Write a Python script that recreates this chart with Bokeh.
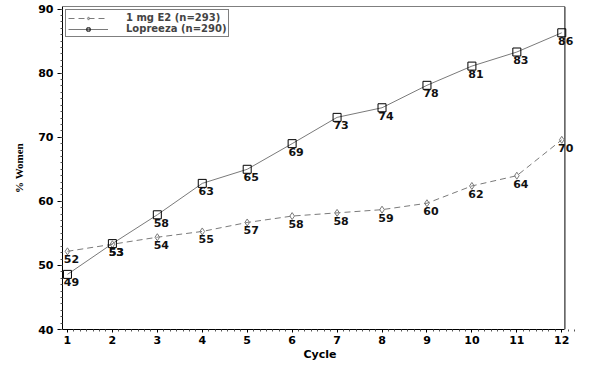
from bokeh.plotting import figure
from bokeh.models import Legend, LegendItem, FixedTicker, ColumnDataSource, Range1d, LabelSet
from bokeh.core.properties import value
from bokeh.embed import file_html
from bokeh.resources import INLINE

cycles = [1, 2, 3, 4, 5, 6, 7, 8, 9, 10, 11, 12]
e2_values = [52.2, 53.3, 54.4, 55.3, 56.7, 57.7, 58.2, 58.7, 59.7, 62.4, 64.0, 69.6]
e2_labels = ["52", "53", "54", "55", "57", "58", "58", "59", "60", "62", "64", "70"]
lop_values = [48.6, 53.4, 57.9, 62.8, 65.0, 69.0, 73.1, 74.6, 78.1, 81.1, 83.3, 86.3]
lop_labels = ["49", "53", "58", "63", "65", "69", "73", "74", "78", "81", "83", "86"]
y_ticks = [40, 50, 60, 70, 80, 90]
series_names = ["1 mg E2 (n=293)", "Lopreeza (n=290)"]

FONT = "DejaVu Sans"
X0, X1 = 0.89, 12.07      # plot box in data units
Y0, Y1 = 40, 90.4

p = figure(width=584, height=363, output_backend="svg", toolbar_location=None,
           x_range=Range1d(X0, 12.35), y_range=Range1d(Y0, Y1),
           min_border_left=62, min_border_right=7, min_border_top=6, min_border_bottom=33)

p.xgrid.visible = False
p.ygrid.visible = False
p.outline_line_color = None
p.background_fill_color = "white"
p.border_fill_color = "white"

# top and right edges of the plot box
p.segment(x0=[X0, X1], y0=[Y1, Y0], x1=[X1, X1], y1=[Y1, Y1], line_color="black", line_width=1)

e2_src = ColumnDataSource(dict(x=cycles, y=e2_values, t=e2_labels))
lop_src = ColumnDataSource(dict(x=cycles, y=lop_values, t=lop_labels))

grey = "#7a7a7a"
l1 = p.line("x", "y", source=e2_src, line_color=grey, line_width=1, line_dash="6 4")
s1 = p.scatter("x", "y", source=e2_src, marker="diamond", size=7, line_color=grey,
               fill_alpha=0, line_width=1)
l2 = p.line("x", "y", source=lop_src, line_color=grey, line_width=1)
s2 = p.scatter("x", "y", source=lop_src, marker="square", size=8, line_color="black",
               fill_alpha=0, line_width=1)

for src in (e2_src, lop_src):
    p.add_layout(LabelSet(x="x", y="y", text="t", source=src, text_font=value(FONT),
                          text_font_size="11px", text_font_style="bold", text_color="#111111",
                          text_align="center", text_baseline="top", x_offset=4, y_offset=-4))

legend = Legend(items=[LegendItem(label=series_names[0], renderers=[l1, s1]),
                       LegendItem(label=series_names[1], renderers=[l2, s2])],
                location="top_left")
legend.label_text_font = FONT
legend.label_text_font_size = "10px"
legend.label_text_font_style = "bold"
legend.label_height = 8
legend.glyph_height = 8
legend.glyph_width = 40
legend.label_standoff = 18
legend.spacing = 0
legend.padding = 2
legend.margin = 3
legend.border_line_color = "black"
legend.border_line_width = 1
legend.background_fill_alpha = 1
p.add_layout(legend, "center")

p.xaxis.ticker = FixedTicker(ticks=cycles, minor_ticks=[c + k / 7 for c in range(0, 13) for k in range(1, 7)])
p.yaxis.ticker = FixedTicker(ticks=y_ticks, minor_ticks=list(range(40, 91)))
p.xaxis.bounds = (X0, X1)
p.xaxis.axis_label = "Cycle"
p.yaxis.axis_label = "% Women"

for ax in (p.xaxis[0], p.yaxis[0]):
    ax.axis_line_color = "black"
    ax.major_tick_line_color = "black"
    ax.minor_tick_line_color = "#555555"
    ax.major_tick_in = 0
    ax.minor_tick_in = 0
    ax.major_label_text_font = FONT
    ax.major_label_text_font_size = "11px"
    ax.major_label_text_font_style = "bold"
    ax.major_label_text_color = "black"
    ax.axis_label_text_font = FONT
    ax.axis_label_text_font_size = "11px"
    ax.axis_label_text_font_style = "bold"
    ax.axis_label_text_color = "black"

p.yaxis.major_tick_out = 5
p.yaxis.minor_tick_out = 2
p.yaxis.major_label_standoff = 4
p.xaxis.major_tick_out = 3
p.xaxis.minor_tick_out = 2
p.xaxis.major_label_standoff = 3
p.xaxis.axis_label_standoff = 1
p.yaxis.axis_label_standoff = 10
p.yaxis.axis_label_text_font = "Liberation Sans Narrow"

open("out.html", "w").write(file_html(p, INLINE))
